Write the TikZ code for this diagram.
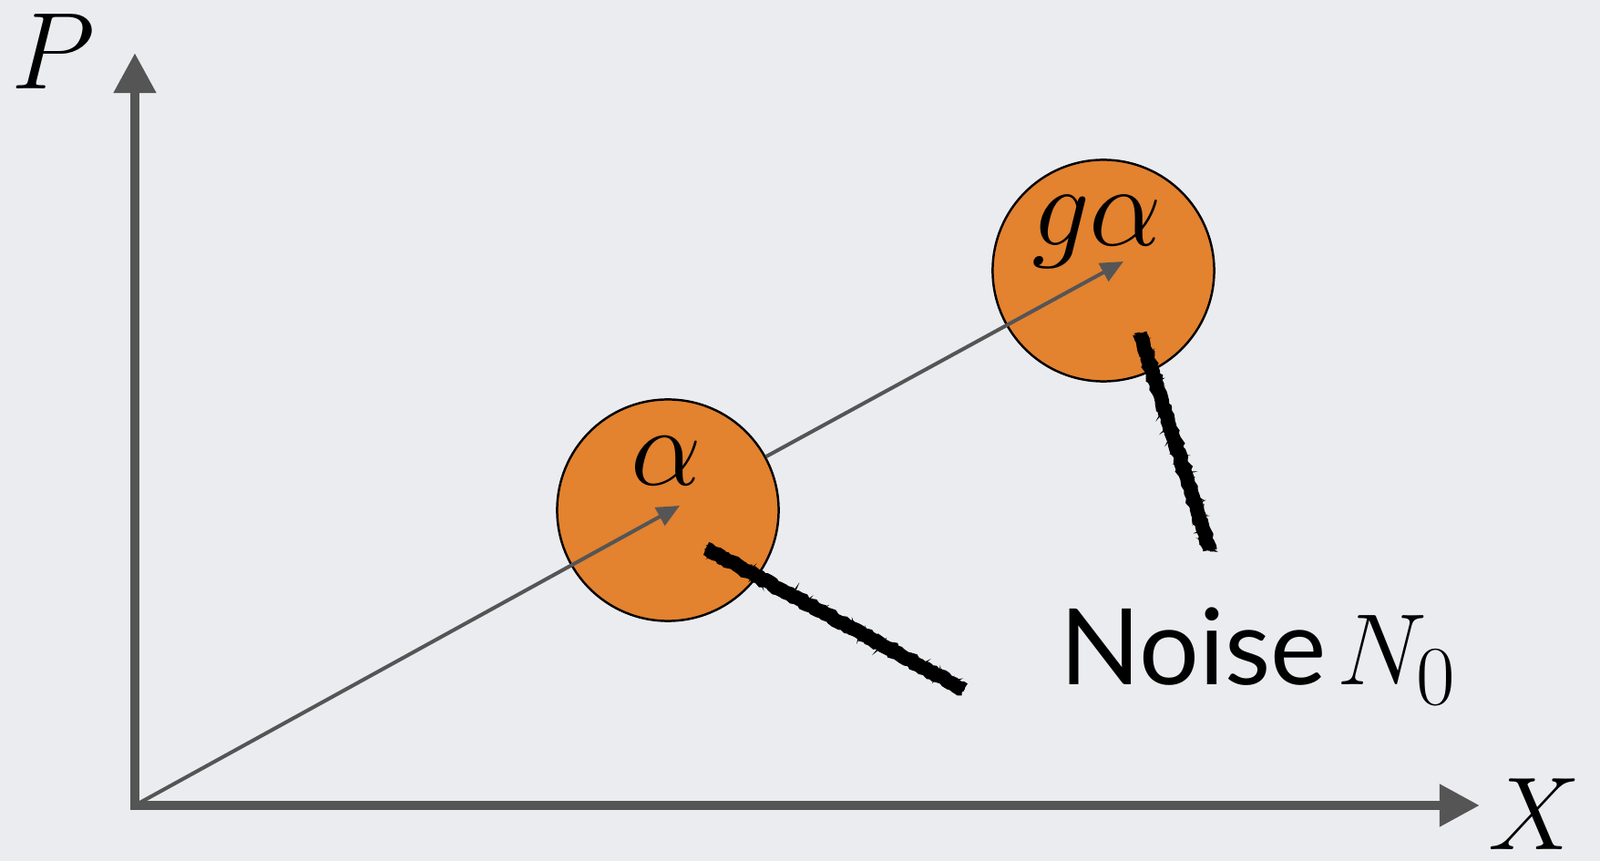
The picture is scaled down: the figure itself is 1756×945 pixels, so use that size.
\documentclass[tikz,border=0pt]{standalone}
\usepackage{graphicx}
\usepackage{fontspec}
\setsansfont{Lato}
\usetikzlibrary{positioning,arrows.meta,decorations.pathmorphing}
\definecolor{bg}{RGB}{234,236,240}
\definecolor{ax}{RGB}{85,85,85}
\definecolor{blob}{RGB}{227,130,47}
\newcommand{\bigsym}[2][1.37]{{\Huge\scalebox{#1}{$#2$}}}

\begin{document}
\begin{tikzpicture}[x=0.01cm,y=0.01cm, axis/.style={draw=ax,line width=3pt,
  {Triangle[length=0.44cm,width=0.44cm]}-{Triangle[length=0.44cm,width=0.44cm]}},
  vec/.style={draw=ax,line width=1.15pt,-{Triangle[length=0.25cm,width=0.22cm]}},
  blobnode/.style={circle,draw,fill=blob,line width=0.7pt,minimum size=2.43cm,inner sep=0pt},
  lbl/.style={inner sep=0pt},
  chalk/.style={draw=black,line width=4.4pt,decorate,
  decoration={random steps,segment length=1pt,amplitude=0.35pt}},
  chalkedge/.style={draw=black,line width=0.8pt,decorate,
  decoration={random steps,segment length=0.8pt,amplitude=1.2pt}}]
  \useasboundingbox (0,0) rectangle (1756,945);
  \fill[bg] (0,0) rectangle (1756,945);
  % axes
  \coordinate (O) at (148,61);
  \coordinate (ptop) at (148,887);
  \coordinate (xtip) at (1624,61);
  \draw[axis] (ptop) -- (O) -- (xtip);
  \node[lbl] (P) at (58,888) {\bigsym{P}};
  \node[lbl,anchor=south east] (X) at (1736,12) {\bigsym[1.3]{X}};
  % signals
  \node[blobnode] (a) at (733,385) {};
  \node[blobnode] (ga) at (1211,648) {};
  \node[lbl,anchor=base] (al) at (731,412) {\bigsym[1.41]{\alpha}};
  \node[lbl,anchor=base] (gal) at (1204,675) {\bigsym[1.45]{g\alpha}};
  \coordinate (atip) at (746,390);
  \coordinate (gtip) at (1233,658);
  \draw[vec] (O) -- (atip);
  \draw[vec] (a) -- (gtip);
  % noise
  \coordinate (n1s) at (775,343);
  \coordinate (n1e) at (1058,188);
  \coordinate (n2s) at (1251,579);
  \coordinate (n2e) at (1328,341);
  \draw[chalk] (n1s) -- (n1e);
  \draw[chalk] (n2s) -- (n2e);
  \foreach \s in {-5.5,-3.5,3.5,5.5}{
    \draw[chalkedge,shift={(\s,\s)}] (n1s) -- (n1e);
    \draw[chalkedge,shift={(\s,\s)}] (n2s) -- (n2e);
  }
  \node[inner sep=0pt,anchor=base west] (noise) at (1163,193)
    {{\fontsize{33}{40}\selectfont\sffamily Noise} \bigsym[1.27]{N_0}};
\end{tikzpicture}
\end{document}
